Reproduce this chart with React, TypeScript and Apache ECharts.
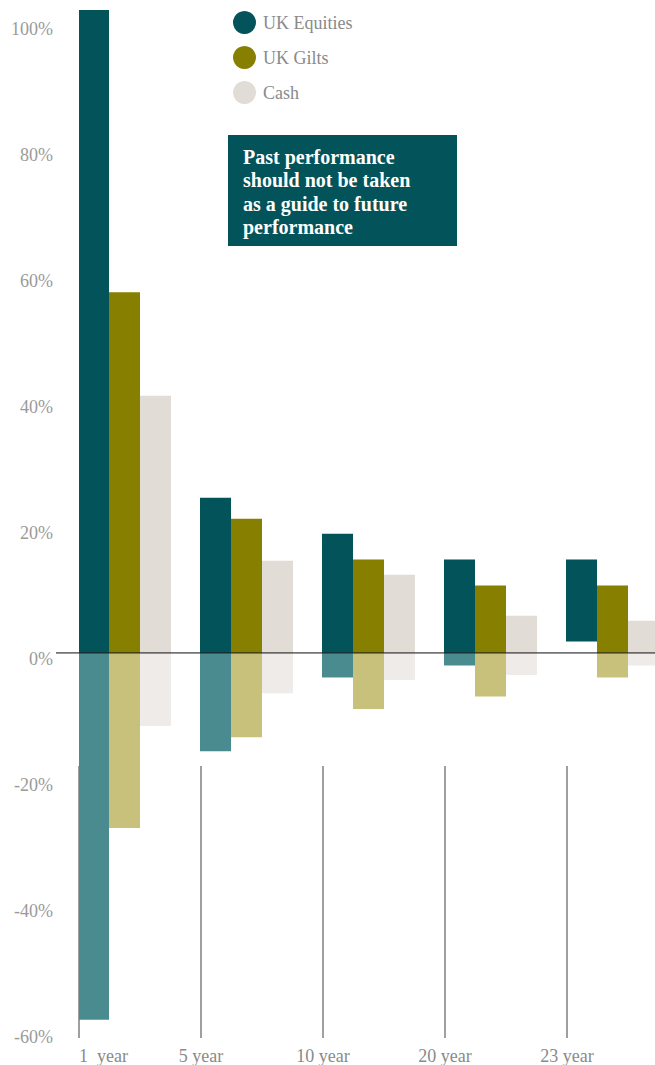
import React, { useEffect, useRef } from "react";
import * as echarts from "echarts";

// ---- data (percent returns, best and worst over each holding period) ----
const periods = ["1  year", "5 year", "10 year", "20 year", "23 year"];
const assets = ["UK Equities", "UK Gilts", "Cash"];
const equitiesBest = [146, 24.6, 18.9, 14.8, 14.8];
const equitiesWorst = [-58.2, -15.6, -3.9, -2.0, 1.8];
const giltsBest = [57.2, 21.3, 14.8, 10.7, 10.7];
const giltsWorst = [-27.8, -13.4, -8.9, -6.9, -3.9];
const cashBest = [40.8, 14.6, 12.4, 5.9, 5.1];
const cashWorst = [-11.6, -6.4, -4.3, -3.5, -2.0];
const yTickValues = [-60, -40, -20, 0, 20, 40, 60, 80, 100];
const noteLines = [
  "Past performance",
  "should not be taken",
  "as a guide to future",
  "performance",
];

const posColors = ["#03535A", "#877F00", "#E2DCD7"];
const negColors = ["#4A8B8F", "#C7C17C", "#EFEBE8"];

const FONT = "Liberation Serif, DejaVu Serif, serif";

export default function App() {
  const ref = useRef<HTMLDivElement>(null);

  useEffect(() => {
    if (!ref.current) return;
    const chart = echarts.init(ref.current, undefined, { renderer: "svg" });

    const bests = [equitiesBest, giltsBest, cashBest];
    const worsts = [equitiesWorst, giltsWorst, cashWorst];

    const series: any[] = [];
    assets.forEach((name, a) => {
      const best = bests[a];
      const worst = worsts[a];
      const base = worst.map((w) => (w > 0 ? w : 0));
      const up = best.map((b, i) => b - base[i]);
      const down = worst.map((w) => (w < 0 ? w : 0));
      const common = {
        type: "bar",
        stack: "s" + a,
        barWidth: 31,
        barGap: "0%",
        barCategoryGap: "0%",
        xAxisIndex: 0,
        yAxisIndex: 0,
        clip: true,
        silent: true,
      };
      series.push({
        ...common,
        name: "base" + a,
        data: base,
        itemStyle: { color: "rgba(0,0,0,0)" },
      });
      series.push({
        ...common,
        name,
        data: up,
        itemStyle: { color: posColors[a] },
      });
      series.push({
        ...common,
        name: "neg" + a,
        data: down,
        itemStyle: { color: negColors[a] },
      });
    });
    // empty slot that keeps each group flush with the left of its band
    series.push({
      type: "bar",
      name: "pad",
      stack: "pad",
      barWidth: 31,
      barGap: "0%",
      barCategoryGap: "0%",
      data: periods.map(() => 0),
      itemStyle: { color: "rgba(0,0,0,0)" },
      silent: true,
    });

    const option: any = {
      animation: false,
      grid: { left: 79, width: 610, top: 10, bottom: 25 },
      legend: {
        data: assets.map((n, i) => ({ name: n, itemStyle: { color: posColors[i] } })),
        orient: "vertical",
        left: 228,
        top: 6,
        icon: "circle",
        itemWidth: 23,
        itemHeight: 23,
        itemGap: 12,
        selectedMode: false,
        textStyle: {
          fontFamily: FONT,
          fontSize: 18,
          color: "#8a8a8a",
          padding: [0, 0, 0, 2],
        },
      },
      xAxis: [
        {
          type: "category",
          data: periods,
          position: "top",
          show: false,
        },
        {
          type: "value",
          min: 0,
          max: 5,
          interval: 1,
          position: "bottom",
          axisLine: { show: false },
          splitLine: { show: false },
          axisTick: {
            show: true,
            inside: true,
            length: 272,
            lineStyle: { color: "#7f7f7f", width: 1.5 },
          },
          axisLabel: {
            formatter: (v: number) => periods[v] ?? "",
            fontFamily: FONT,
            fontSize: 18,
            color: "#8a8a8a",
            margin: 9,
            alignMinLabel: "left",
            showMaxLabel: false,
          },
        },
      ],
      yAxis: {
        type: "value",
        min: -61.1,
        max: 102,
        axisLine: { show: false },
        axisTick: { show: false },
        splitLine: { show: false },
        axisLabel: {
          customValues: yTickValues,
          formatter: (v: number) => `${Math.round(v)}%`,
          fontFamily: FONT,
          fontSize: 18,
          color: "#9a9a9a",
          margin: 26,
          verticalAlign: "top",
          lineHeight: 12,
        },
      },
      series,
    };
    chart.setOption(option);

    const y0 = chart.convertToPixel({ yAxisIndex: 0 }, 0) as number;
    chart.setOption({
      graphic: [
        {
          type: "line",
          shape: { x1: 56, y1: y0, x2: 700, y2: y0 },
          style: { stroke: "rgba(30,30,30,0.62)", lineWidth: 1.7 },
          z: 100,
          silent: true,
        },
        {
          type: "group",
          left: 228,
          top: 135,
          children: [
            {
              type: "rect",
              shape: { x: 0, y: 0, width: 229, height: 111 },
              style: { fill: "#03535A" },
            },
            {
              type: "text",
              x: 15,
              y: 10,
              style: {
                text: noteLines.join("\n"),
                fill: "#ffffff",
                font: `bold 20px ${FONT}`,
                lineHeight: 23.5,
              },
            },
          ],
        },
      ],
    });

    return () => chart.dispose();
  }, []);

  return (
    <div
      style={{
        position: "absolute",
        left: 0,
        top: 0,
        width: 655,
        height: 1065,
        overflow: "hidden",
        background: "#fff",
      }}
    >
      <div ref={ref} style={{ width: 700, height: 1065 }} />
    </div>
  );
}
